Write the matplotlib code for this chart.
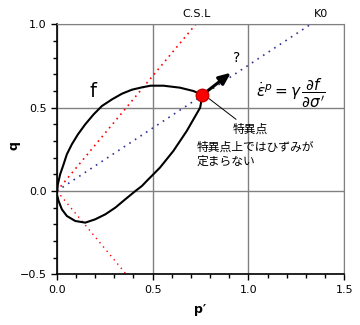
import matplotlib
matplotlib.use("Agg")
import matplotlib.pyplot as plt
import numpy as np
from matplotlib.ticker import MultipleLocator

# yield surface f (p', q)
upper_p = [0.0, 0.005, 0.017, 0.035, 0.052, 0.078, 0.110, 0.148, 0.192, 0.235, 0.288, 0.340,
           0.392, 0.444, 0.490, 0.556, 0.643, 0.713, 0.760]
upper_q = [-0.02, 0.04, 0.10, 0.16, 0.22, 0.28, 0.34, 0.40, 0.46, 0.51, 0.55, 0.584,
           0.608, 0.622, 0.632, 0.632, 0.620, 0.600, 0.577]
lower_p = [0.760, 0.748, 0.678, 0.608, 0.538, 0.469, 0.444, 0.41, 0.357, 0.305, 0.253, 0.200,
           0.148, 0.096, 0.052, 0.026, 0.009, 0.0]
lower_q = [0.577, 0.50, 0.36, 0.24, 0.14, 0.06, 0.03, 0.0, -0.05, -0.10, -0.14, -0.17,
           -0.19, -0.18, -0.15, -0.11, -0.06, -0.02]

M = 1.38      # CSL slope
K0 = 0.755    # K0 line slope
line_p = [0.0, 1.6]

sing_p, sing_q = 0.760, 0.577
arrow_p, arrow_q = 0.92, 0.72

jp = ['Noto Sans CJK JP', 'DejaVu Sans']

fig = plt.figure(figsize=(3.6, 3.25), dpi=100)
ax = fig.add_axes([0.158, 0.156, 0.798, 0.769])

ax.plot(line_p, [M * p for p in line_p], color='red', lw=1.2, ls=(0, (1, 2.5)))
ax.plot(line_p, [-M * p for p in line_p], color='red', lw=1.0, ls=(0, (1, 3)))
ax.plot(line_p, [K0 * p for p in line_p], color='#333399', lw=1.2, ls=(0, (1, 3)))

ax.plot(upper_p, upper_q, color='black', lw=1.5, solid_joinstyle='round')
ax.plot(lower_p, lower_q, color='black', lw=1.5, solid_joinstyle='round')

ax.annotate('', xy=(arrow_p, arrow_q), xytext=(sing_p, sing_q),
            arrowprops=dict(arrowstyle='-|>,head_length=0.7,head_width=0.3', color='black', lw=2.2))
ax.plot([sing_p], [sing_q], 'o', ms=9, mfc='red', mec='#cc0000', zorder=5)

ax.annotate('', xy=(sing_p + 0.02, sing_q - 0.01), xytext=(0.947, 0.42),
            arrowprops=dict(arrowstyle='-', color='black', lw=0.7))

ax.text(0.94, 0.755, '?', fontsize=10, ha='center', va='bottom')
ax.text(0.17, 0.6, 'f', fontsize=14, ha='left', va='center')
ax.text(0.92, 0.37, '特異点', family=jp, fontsize=8.5, ha='left', va='center')
ax.text(0.73, 0.22, '特異点上ではひずみが\n定まらない', family=jp, fontsize=8.5,
        ha='left', va='center', linespacing=1.15)
ax.text(1.04, 0.585, r"$\dot{\varepsilon}^{p} = \gamma\,\dfrac{\partial f}{\partial \sigma'}$",
        fontsize=11, ha='left', va='center')

ax.text(0.73, 1.03, 'C.S.L', fontsize=8, ha='center', va='bottom')
ax.text(1.38, 1.03, 'K0', fontsize=8, ha='center', va='bottom')

ax.set_xlim(0, 1.5)
ax.set_ylim(-0.5, 1.0)
ax.xaxis.set_major_locator(MultipleLocator(0.5))
ax.yaxis.set_major_locator(MultipleLocator(0.5))
ax.xaxis.set_minor_locator(MultipleLocator(0.1))
ax.yaxis.set_minor_locator(MultipleLocator(0.1))
ax.xaxis.set_major_formatter(lambda v, pos: f'{v:.1f}'.replace('-', '\u2212'))
ax.yaxis.set_major_formatter(lambda v, pos: f'{v:.1f}'.replace('-', '\u2212'))
ax.tick_params(which='both', direction='out', labelsize=8, width=1)
ax.tick_params(which='major', length=4)
ax.tick_params(which='minor', length=3)
ax.grid(True, which='major', color='gray', lw=1)
for s in ['top', 'right']:
    ax.spines[s].set_color('gray')
for s in ['left', 'bottom']:
    ax.spines[s].set_linewidth(1.2)

ax.set_xlabel("p\u2032", fontweight='bold', fontsize=9, labelpad=6)
ax.set_ylabel("q", fontweight='bold', fontsize=9)
ax.yaxis.set_label_coords(-0.125, 0.517)

fig.savefig('out.png', dpi=100)
